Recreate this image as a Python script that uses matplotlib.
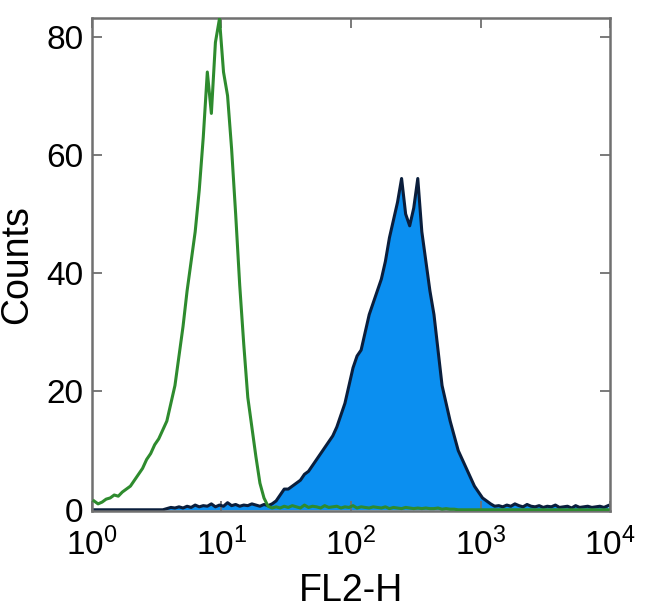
import numpy as np
import matplotlib
matplotlib.use("Agg")
import matplotlib.pyplot as plt
from matplotlib.ticker import FixedLocator, NullLocator

plt.rcParams["font.family"] = ["Liberation Sans", "DejaVu Sans"]

# %% histogram counts, 128 log-spaced channels from 10^0 to 10^4
isotype_counts = [
    1.5, 1.0, 1.3, 1.8, 2.0, 2.5, 2.3, 3.0, 3.5, 4.0,
    5.0, 6.0, 7.0, 8.5, 9.5, 11.0, 12.0, 13.5, 15.0, 18.0,
    21.0, 26.0, 31.0, 37.0, 42.0, 47.0, 54.0, 63.0, 74.0, 67.0,
    79.0, 83.0, 74.0, 70.0, 61.0, 50.0, 38.0, 28.0, 19.0, 14.0,
    9.0, 4.5, 2.0, 0.6, 0.3, 0.5, 0.3, 0.6, 0.4, 0.7,
    0.5, 0.3, 0.8, 0.4, 0.6, 0.5, 0.3, 0.7, 0.4, 0.5,
    0.6, 0.3, 0.5, 0.4, 0.7, 0.3, 0.5, 0.4, 0.3, 0.5,
    0.4, 0.3, 0.5, 0.2, 0.4, 0.3, 0.2, 0.4, 0.3, 0.2,
    0.3, 0.2, 0.3, 0.2, 0.2, 0.3, 0.1, 0.2, 0.1, 0.1,
] + [0.0] * 38

stained_counts = [0.0] * 18 + [
    0.2, 0.4, 0.3, 0.5, 0.3, 0.6, 0.4, 0.8, 0.5, 0.7,
    0.6, 1.0, 0.5, 0.8, 0.6, 1.2, 0.7, 0.9, 0.6, 0.8,
    0.7, 1.0, 0.8, 0.6, 0.9, 0.7,
    1.0, 1.5, 2.5, 3.5, 3.5, 4.0, 4.5, 5.0, 6.0, 6.5,
    7.5, 8.5, 9.5, 10.5, 11.5, 12.5, 14.0, 16.0, 18.0, 21.0,
    24.0, 26.0, 27.0, 30.0, 33.0, 35.0, 37.0, 39.0, 42.0, 46.0,
    49.0, 52.0, 56.0, 50.0, 48.0, 51.0, 56.0, 47.0, 42.0, 37.0,
    33.0, 27.0, 21.0, 18.0, 15.0, 12.5, 10.0, 8.5, 7.0, 5.5,
    4.0, 3.0, 2.0, 1.5, 1.0, 0.6, 0.7, 0.5, 0.8, 0.6,
    1.0, 0.7, 0.5, 0.9, 0.6, 0.5, 0.7, 0.4, 0.6, 0.5,
    0.8, 0.4, 0.5, 0.6, 0.3, 0.7, 0.4, 0.5, 0.6, 0.4,
    0.5, 0.6, 0.4, 0.7,
]

x_ticks = [1, 10, 100, 1000, 10000]
x_labels = [r"$\mathregular{10^{%d}}$" % k for k in range(5)]
y_ticks = [0, 20, 40, 60, 80]

edges = np.logspace(0, 4, len(isotype_counts) + 1)
centers = np.sqrt(edges[:-1] * edges[1:])

# %%
fig = plt.figure(figsize=(6.5, 6.16), dpi=100)
ax = fig.add_axes([0.1415, 0.1705, 0.797, 0.800])

ax.fill_between(centers, 0, stained_counts, color="#0b8ff0", linewidth=0, zorder=1)
ax.plot(centers, stained_counts, color="#0a1e3c", linewidth=2.2, zorder=2)
ax.plot(centers, isotype_counts, color="#2e8b2e", linewidth=2.2, zorder=3)

ax.set_xscale("log")
ax.set_xlim(1, 10000)
ax.set_ylim(-0.2, 83.1)
ax.xaxis.set_major_locator(FixedLocator(x_ticks))
ax.xaxis.set_minor_locator(NullLocator())
ax.set_xticklabels(x_labels)
ax.set_yticks(y_ticks)

for s in ax.spines.values():
    s.set_color("#707070")
    s.set_linewidth(1.8)
ax.tick_params(direction="in", length=7, width=1.3, color="#707070",
               top=True, right=True, labelsize=24, pad=6)
ax.tick_params(axis="x", pad=12)

ax.set_xlabel("FL2-H", fontsize=27)
ax.set_ylabel("Counts", fontsize=27)
ax.xaxis.set_label_coords(0.5, -0.125)
ax.yaxis.set_label_coords(-0.11, 0.5)

fig.savefig("out.png", dpi=100)
